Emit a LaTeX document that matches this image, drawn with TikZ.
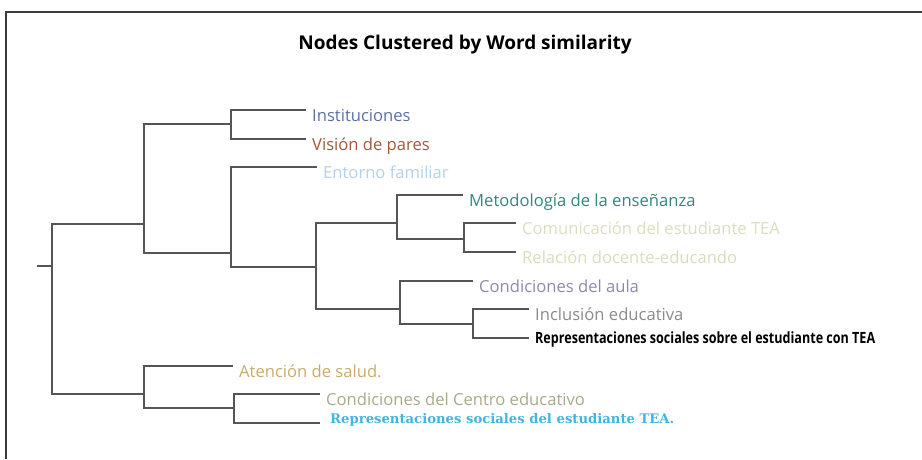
\documentclass[tikz,border=0pt]{standalone}
\usepackage{fontspec}
\setmainfont{Open Sans}
\newfontfamily\slabfont{DejaVu Serif}
\usepackage{tikz}

\definecolor{framegray}{HTML}{3A3A3A}
\definecolor{branchgray}{HTML}{555555}
\definecolor{instblue}{HTML}{5B6FA6}
\definecolor{visbrown}{HTML}{A0583A}
\definecolor{entblue}{HTML}{B4D0EA}
\definecolor{metteal}{HTML}{2F877E}
\definecolor{combeige}{HTML}{DCDCC0}
\definecolor{relbeige}{HTML}{D9DCB9}
\definecolor{aulapurple}{HTML}{8C8AAB}
\definecolor{inclgray}{HTML}{8A8A8A}
\definecolor{atengold}{HTML}{CBAA6C}
\definecolor{cenolive}{HTML}{A9A98A}
\definecolor{teacyan}{HTML}{3FB6E0}

\begin{document}
\begin{tikzpicture}[
    x=1pt, y=-1pt,
    branch/.style={draw=branchgray, line width=1.6pt},
    leaf/.style={anchor=west, inner xsep=6pt, inner ysep=0pt,
        text height=22pt, text depth=0pt,
        font=\fontsize{16.6}{18}\selectfont}
]
\useasboundingbox (0,0) rectangle (922,459);
\draw[framegray, line width=1.8pt] (922,12) -- (6,12) -- (6,459);

\node[font=\fontsize{19}{22}\selectfont\bfseries] (title) at (465,45)
    {Nodes Clustered by Word similarity};

% junctions
\coordinate (stub) at (37,266);
\coordinate (root) at (52,266);
\coordinate (A)  at (144,224);
\coordinate (A1) at (231,124);
\coordinate (A2) at (231,253);
\coordinate (B)  at (316,267);
\coordinate (C)  at (397,223);
\coordinate (C2) at (464,239);
\coordinate (D)  at (400,309);
\coordinate (D2) at (473,324);
\coordinate (E)  at (144,394);
\coordinate (E2) at (234,408);

% leaves
\node[leaf, text=instblue]   (inst) at (306,110) {Instituciones};
\node[leaf, text=visbrown]   (vis)  at (306,139) {Visión de pares};
\node[leaf, text=entblue]    (ent)  at (317,167) {Entorno familiar};
\node[leaf, text=metteal]    (met)  at (463,195) {Metodología de la enseñanza};
\node[leaf, text=combeige]   (com)  at (516,223) {Comunicación del estudiante TEA};
\node[leaf, text=relbeige]   (rel)  at (516,252) {Relación docente-educando};
\node[leaf, text=aulapurple] (aula) at (473,281) {Condiciones del aula};
\node[leaf, text=inclgray]   (incl) at (529,309) {Inclusión educativa};
\node[leaf, text=black, text height=11pt,
    font=\fontsize{15.5}{17}\selectfont\bfseries] (rep) at (529,338)
    {\resizebox{340pt}{\height}{Representaciones sociales sobre el estudiante con TEA}};
\node[leaf, text=teacyan, inner xsep=10pt, text height=5pt, text depth=5pt,
    font=\fontsize{13.2}{15}\slabfont\bfseries] (rtea) at (320,423)
    {Representaciones sociales del estudiante TEA.};
\node[leaf, text=atengold]   (aten) at (233,366) {Atención de salud.};
\node[leaf, text=cenolive]   (cen)  at (320,394) {Condiciones del Centro educativo};

\draw[branch] (stub) -- (root);
\foreach \p/\c in {root/A, root/E, A/A1, A/A2, A1/inst, A1/vis,
    A2/ent, A2/B, B/C, B/D, C/met, C/C2, C2/com, C2/rel,
    D/aula, D/D2, D2/incl, D2/rep, E/aten, E/E2, E2/cen, E2/rtea}
    \draw[branch] (\p) |- (\c);
\end{tikzpicture}
\end{document}
